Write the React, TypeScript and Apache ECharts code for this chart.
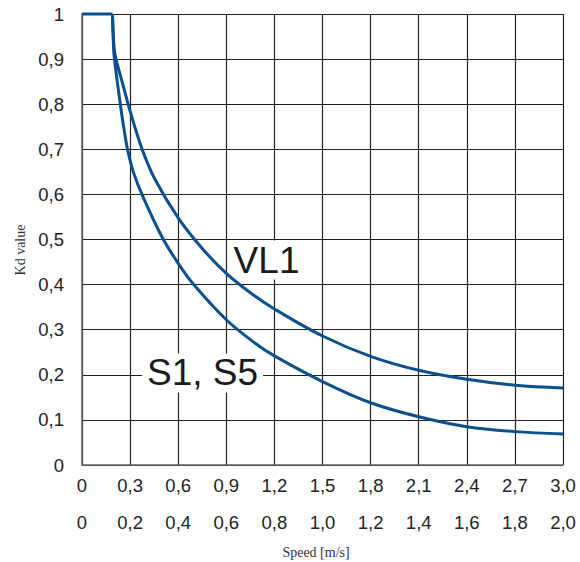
import { useEffect, useRef } from 'react';
import * as echarts from 'echarts';

// Speed on the upper scale (0 – 3.0 m/s)
const plateauSpeed = [0, 0.19];
const plateauKd = [1, 1];

const vl1Speed = [0.19, 0.195, 0.206, 0.25, 0.3, 0.37, 0.45, 0.6, 0.75, 0.9, 1.05, 1.2, 1.5, 1.8, 2.1, 2.4, 2.7, 3.0];
const vl1Kd = [1, 0.955, 0.91, 0.85, 0.785, 0.705, 0.637, 0.548, 0.48, 0.425, 0.382, 0.346, 0.286, 0.241, 0.21, 0.19, 0.177, 0.171];

const s1Speed = [0.19, 0.194, 0.2, 0.237, 0.258, 0.284, 0.32, 0.38, 0.5, 0.6, 0.69, 0.9, 1.08, 1.2, 1.5, 1.8, 2.1, 2.4, 2.7, 3.0];
const s1Kd = [1, 0.955, 0.909, 0.805, 0.754, 0.7, 0.65, 0.595, 0.505, 0.447, 0.403, 0.322, 0.27, 0.242, 0.185, 0.138, 0.107, 0.085, 0.074, 0.069];

const yTickLabels = ['0', '0,1', '0,2', '0,3', '0,4', '0,5', '0,6', '0,7', '0,8', '0,9', '1'];
const topTickLabels = ['0', '0,3', '0,6', '0,9', '1,2', '1,5', '1,8', '2,1', '2,4', '2,7', '3,0'];
const bottomTickLabels = ['0', '0,2', '0,4', '0,6', '0,8', '1,0', '1,2', '1,4', '1,6', '1,8', '2,0'];

const curveLabels = [
  { text: 'VL1', speed: 1.151, kd: 0.4545 },
  { text: 'S1, S5', speed: 0.752, kd: 0.204 },
];

const LINE_COLOR = '#0b4f8f';
const SANS = '"Liberation Sans", Arial, sans-serif';
const SERIF = '"Liberation Serif", "Times New Roman", serif';

export default function App() {
  const ref = useRef<HTMLDivElement>(null);

  useEffect(() => {
    if (!ref.current) return;
    const chart = echarts.init(ref.current, undefined, { renderer: 'svg' });
    const labelStyle = { color: '#222', fontSize: 18.5, fontFamily: SANS };
    const lineSeries = (name: string, xs: number[], ys: number[], smooth: number | boolean) => ({
      name,
      type: 'line',
      xAxisIndex: 0,
      yAxisIndex: 0,
      data: xs.map((s, i) => [s, ys[i]]),
      showSymbol: false,
      smooth,
      clip: false,
      lineStyle: { color: LINE_COLOR, width: 3 },
      z: 5,
    });
    chart.setOption({
      animation: false,
      backgroundColor: '#fff',
      grid: { left: 82, right: 17, top: 14, bottom: 97 },
      xAxis: [
        {
          type: 'value',
          min: 0,
          max: 3,
          interval: 0.3,
          position: 'bottom',
          axisLine: { show: true, lineStyle: { color: '#666', width: 1.5 } },
          axisTick: { show: false },
          axisLabel: { ...labelStyle, margin: 11, formatter: (_v: number, i: number) => topTickLabels[i] ?? '' },
          splitLine: { show: true, lineStyle: { color: '#222', width: 1.2 } },
        },
        {
          type: 'value',
          min: 0,
          max: 2,
          interval: 0.2,
          position: 'bottom',
          offset: 37,
          axisLine: { show: false },
          axisTick: { show: false },
          axisLabel: { ...labelStyle, margin: 11, formatter: (_v: number, i: number) => bottomTickLabels[i] ?? '' },
          splitLine: { show: false },
        },
      ],
      yAxis: {
        type: 'value',
        min: 0,
        max: 1,
        interval: 0.1,
        axisLine: { show: true, lineStyle: { color: '#666', width: 1.5 } },
        axisTick: { show: false },
        axisLabel: { ...labelStyle, margin: 18, formatter: (_v: number, i: number) => yTickLabels[i] ?? '' },
        splitLine: { show: true, lineStyle: { color: '#222', width: 1.2 } },
      },
      series: [
        lineSeries('plateau', plateauSpeed, plateauKd, false),
        lineSeries('VL1', vl1Speed, vl1Kd, 0.35),
        lineSeries('S1, S5', s1Speed, s1Kd, 0.35),
      ],
    });

    const annotations = curveLabels.map((l) => {
      const [px, py] = chart.convertToPixel({ xAxisIndex: 0, yAxisIndex: 0 }, [l.speed, l.kd]) as number[];
      return {
        type: 'text',
        x: px,
        y: py,
        z: 1,
        style: {
          text: l.text,
          fill: '#1a1a1a',
          font: `37px ${SANS}`,
          align: 'center',
          verticalAlign: 'middle',
          backgroundColor: '#fff',
          padding: [1, 5],
        },
      };
    });

    chart.setOption({
      graphic: [
        ...annotations,
        {
          type: 'text',
          x: 316,
          y: 552,
          style: { text: 'Speed [m/s]', fill: '#333', font: `14px ${SERIF}`, align: 'center', verticalAlign: 'middle' },
        },
        {
          type: 'text',
          x: 20,
          y: 250,
          rotation: Math.PI / 2,
          style: { text: 'Kd value', fill: '#333', font: `14px ${SERIF}`, align: 'center', verticalAlign: 'middle' },
        },
      ],
    });

    return () => chart.dispose();
  }, []);

  return <div ref={ref} style={{ width: 580, height: 562, position: 'absolute', left: 0, top: 0 }} />;
}
